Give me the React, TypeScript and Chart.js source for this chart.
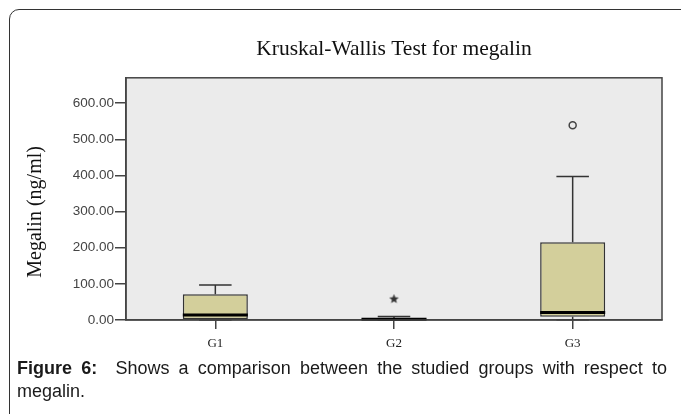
import React, { useEffect, useRef } from "react";
import { Chart, registerables } from "chart.js";

Chart.register(...registerables);

// ---- data ----
const categories = ["G1", "G2", "G3"];
const whiskerMin = [0, 0, 1];
const q1 = [2, 1, 9];
const median = [14, 2, 21];
const q3 = [71, 4, 215];
const whiskerMax = [97, 10, 397];
const extremeValues: (number | null)[] = [null, 58, null];
const outlierValues: (number | null)[] = [null, null, 539];
const yMax = 670;
const yStep = 100;

const chartTitle = "Kruskal-Wallis Test for megalin";
const yTitle = "Megalin (ng/ml)";

function makeStar(): HTMLCanvasElement {
  const c = document.createElement("canvas");
  c.width = 11;
  c.height = 11;
  const g = c.getContext("2d")!;
  g.fillStyle = "#333";
  g.beginPath();
  for (let k = 0; k < 10; k++) {
    const r = k % 2 === 0 ? 5 : 2.2;
    const ang = -Math.PI / 2 + (k * Math.PI) / 5;
    g.lineTo(5.5 + r * Math.cos(ang), 5.5 + r * Math.sin(ang));
  }
  g.closePath();
  g.fill();
  return c;
}

const plotFrame = {
  id: "plotFrame",
  beforeDraw(chart: any) {
    const { ctx, chartArea: a } = chart;
    ctx.save();
    ctx.fillStyle = "#EBEBEB";
    ctx.fillRect(a.left, a.top, a.right - a.left, a.bottom - a.top);
    ctx.restore();
  },
  afterDraw(chart: any) {
    const { ctx, chartArea: a } = chart;
    ctx.save();
    ctx.strokeStyle = "#444";
    ctx.lineWidth = 1.5;
    ctx.strokeRect(a.left, a.top, a.right - a.left, a.bottom - a.top);
    ctx.fillStyle = "#111";
    ctx.font = "20px 'Liberation Serif'";
    ctx.textAlign = "center";
    ctx.textBaseline = "middle";
    ctx.translate(36, (a.top + a.bottom) / 2 + 13);
    ctx.rotate(-Math.PI / 2);
    ctx.fillText(yTitle, 0, 0);
    ctx.restore();
  },
};

const boxParts = {
  id: "boxParts",
  afterDatasetsDraw(chart: any) {
    const { ctx } = chart;
    const y = chart.scales.y;
    const meta = chart.getDatasetMeta(0);
    meta.data.forEach((bar: any, i: number) => {
      const { x, width } = bar.getProps(["x", "width"], true);
      const cap = width / 4;
      ctx.save();
      ctx.strokeStyle = "#333";
      ctx.lineWidth = 1.5;
      ctx.beginPath();
      ctx.moveTo(x, y.getPixelForValue(q3[i]));
      ctx.lineTo(x, y.getPixelForValue(whiskerMax[i]));
      ctx.moveTo(x - cap, y.getPixelForValue(whiskerMax[i]));
      ctx.lineTo(x + cap, y.getPixelForValue(whiskerMax[i]));
      ctx.moveTo(x, y.getPixelForValue(q1[i]));
      ctx.lineTo(x, y.getPixelForValue(whiskerMin[i]));
      ctx.moveTo(x - cap, y.getPixelForValue(whiskerMin[i]));
      ctx.lineTo(x + cap, y.getPixelForValue(whiskerMin[i]));
      ctx.stroke();
      ctx.strokeStyle = "#000";
      ctx.lineWidth = 3;
      ctx.beginPath();
      ctx.moveTo(x - width / 2, y.getPixelForValue(median[i]));
      ctx.lineTo(x + width / 2, y.getPixelForValue(median[i]));
      ctx.stroke();
      ctx.restore();
    });
  },
};

export default function App() {
  const ref = useRef<HTMLCanvasElement | null>(null);

  useEffect(() => {
    if (!ref.current) return;
    const star = makeStar();
    const chart = new Chart(ref.current, {
      type: "bar",
      data: {
        labels: categories,
        datasets: [
          {
            type: "bar",
            data: categories.map((_, i) => [q1[i], q3[i]]) as any,
            backgroundColor: "#D3CF9B",
            borderColor: "#333",
            borderWidth: 1.5,
            borderSkipped: false,
            barPercentage: 0.364,
            categoryPercentage: 1,
          } as any,
          {
            type: "line",
            data: extremeValues as any,
            showLine: false,
            pointStyle: star as any,
            pointRadius: 5,
          } as any,
          {
            type: "line",
            data: outlierValues as any,
            showLine: false,
            pointStyle: "circle",
            pointRadius: 3.5,
            borderColor: "#444",
            borderWidth: 1.5,
            backgroundColor: "rgba(0,0,0,0)",
          } as any,
        ],
      },
      options: {
        animation: false,
        responsive: false,
        layout: { padding: { left: 0, right: 19, top: 0, bottom: 0 } },
        plugins: {
          legend: { display: false },
          tooltip: { enabled: false },
          title: {
            display: true,
            text: chartTitle,
            fullSize: false,
            color: "#111",
            font: { family: "Liberation Serif", size: 21.5, weight: "normal" },
            lineHeight: 1.2,
            padding: { top: 36, bottom: 16 },
          },
        },
        scales: {
          x: {
            type: "category",
            offset: true,
            grid: {
              display: true,
              drawOnChartArea: false,
              drawTicks: true,
              tickLength: 9,
              offset: false,
              color: "#444",
              lineWidth: 1.5,
            },
            border: { display: true, color: "#444", width: 1.5 },
            ticks: {
              color: "#222",
              font: { family: "Liberation Serif", size: 13 },
              padding: 7,
            },
            afterFit(s: any) {
              s.height = 40;
            },
          } as any,
          y: {
            min: 0,
            max: yMax,
            ticks: {
              stepSize: yStep,
              includeBounds: false,
              callback: (v: any) => Number(v).toFixed(2),
              color: "#444",
              font: { family: "Liberation Sans", size: 13.5 },
              padding: 1,
            },
            grid: {
              display: true,
              drawOnChartArea: false,
              tickLength: 11,
              color: "#444",
              lineWidth: 1.5,
            },
            border: { display: true, color: "#444", width: 1.5 },
            afterFit(s: any) {
              s.width = 126;
            },
          } as any,
        },
      },
      plugins: [plotFrame, boxParts],
    });
    return () => chart.destroy();
  }, []);

  return (
    <div
      style={{
        position: "absolute",
        left: 0,
        top: 0,
        width: 681,
        height: 414,
        overflow: "hidden",
        background: "#fff",
      }}
    >
      <div
        style={{
          position: "absolute",
          left: 9,
          top: 9,
          width: 720,
          height: 500,
          border: "1.5px solid #333",
          borderRadius: 10,
        }}
      />
      <canvas
        ref={ref}
        width={681}
        height={360}
        style={{ position: "absolute", left: 0, top: 0, width: 681, height: 360 }}
      />
      <div
        style={{
          position: "absolute",
          left: 17,
          top: 357,
          width: 650,
          fontFamily: "'Liberation Sans', Arial, sans-serif",
          fontSize: 18,
          lineHeight: "23px",
          color: "#1a1a1a",
        }}
      >
        <div style={{ textAlign: "justify", textAlignLast: "justify" } as any}>
          <b>Figure 6:</b>&nbsp; Shows a comparison between the studied groups with respect to
        </div>
        <div>megalin.</div>
      </div>
    </div>
  );
}
